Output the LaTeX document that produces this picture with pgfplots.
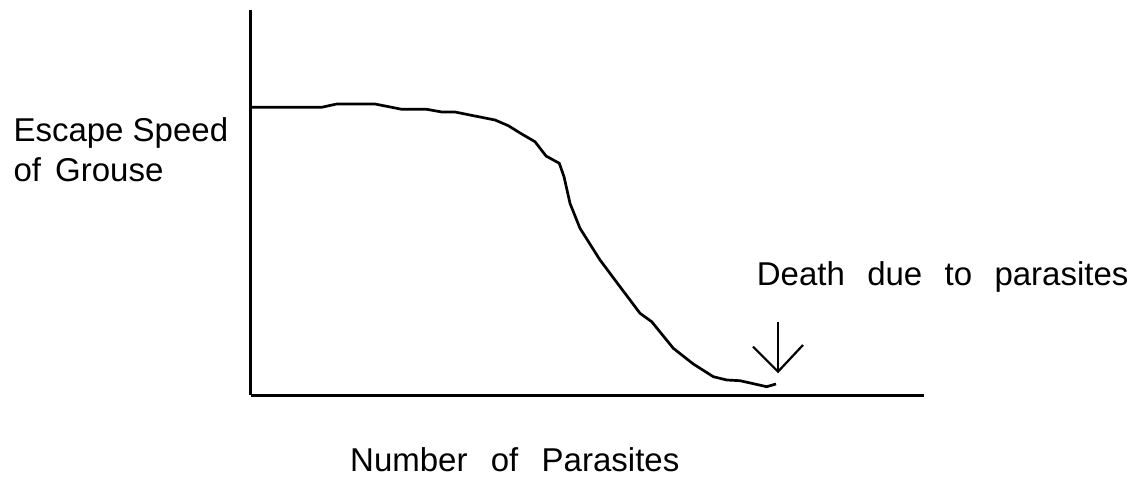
\documentclass[border=0pt]{standalone}
\usepackage{pgfplots}
\pgfplotsset{compat=1.18}
\usepackage{fontspec}
\setmainfont{Liberation Sans}
\begin{document}
\begin{tikzpicture}
\begin{axis}[
  at={(250.5pt,82.7pt)}, anchor=south west,
  scale only axis, width=673.5pt, height=385.3pt,
  xmin=250.5, xmax=924, ymin=82.7, ymax=468,
  axis x line=bottom, axis y line=left,
  axis line style={line width=3pt,-},
  ticks=none, clip=false,
]
\addplot[black, line width=2.7pt, line join=round] coordinates {
(251.7,370.7) (321.7,370.7) (336.7,374) (375,374) (401.7,368.7) (426.7,368.7)
(441.7,366) (455,366) (473.3,362.3) (495,358) (508.3,352.3) (521.7,344)
(535,336.3) (546,322) (559.3,314.7) (564,301.3) (570,274.7) (580,249.7)
(600,218) (620,191.3) (640,164.7) (651.7,156.3) (673.3,129.7) (693.3,114)
(713.3,101.3) (726.7,98) (740,97.3) (766.7,91.3) (776,94)
};
\draw[black, line width=2.2pt] (axis cs:778,156.3) -- (axis cs:778,106.3);
\draw[black, line width=2.2pt, line join=miter] (axis cs:753,131.3) -- (axis cs:778,106.3) -- (axis cs:803,133);
\end{axis}
\pgfresetboundingbox
\path (0pt,0pt) rectangle (1135pt,478pt);
\fontsize{33}{40}\selectfont
\node[anchor=base west, inner sep=0pt] at (13.3pt,336.3pt) {Escape Speed};
\node[anchor=base west, inner sep=0pt] at (13.3pt,296.3pt) {of\ \hspace{5pt}Grouse};
\node[anchor=base west, inner sep=0pt] at (350pt,6pt) {Number\ \ \hspace{5pt}of\ \ \hspace{5pt}Parasites};
\node[anchor=base west, inner sep=0pt] at (756.7pt,192pt) {Death\ \ \hspace{4pt}due\ \ \hspace{4pt}to\ \ \hspace{4pt}parasites};
\end{tikzpicture}
\end{document}
